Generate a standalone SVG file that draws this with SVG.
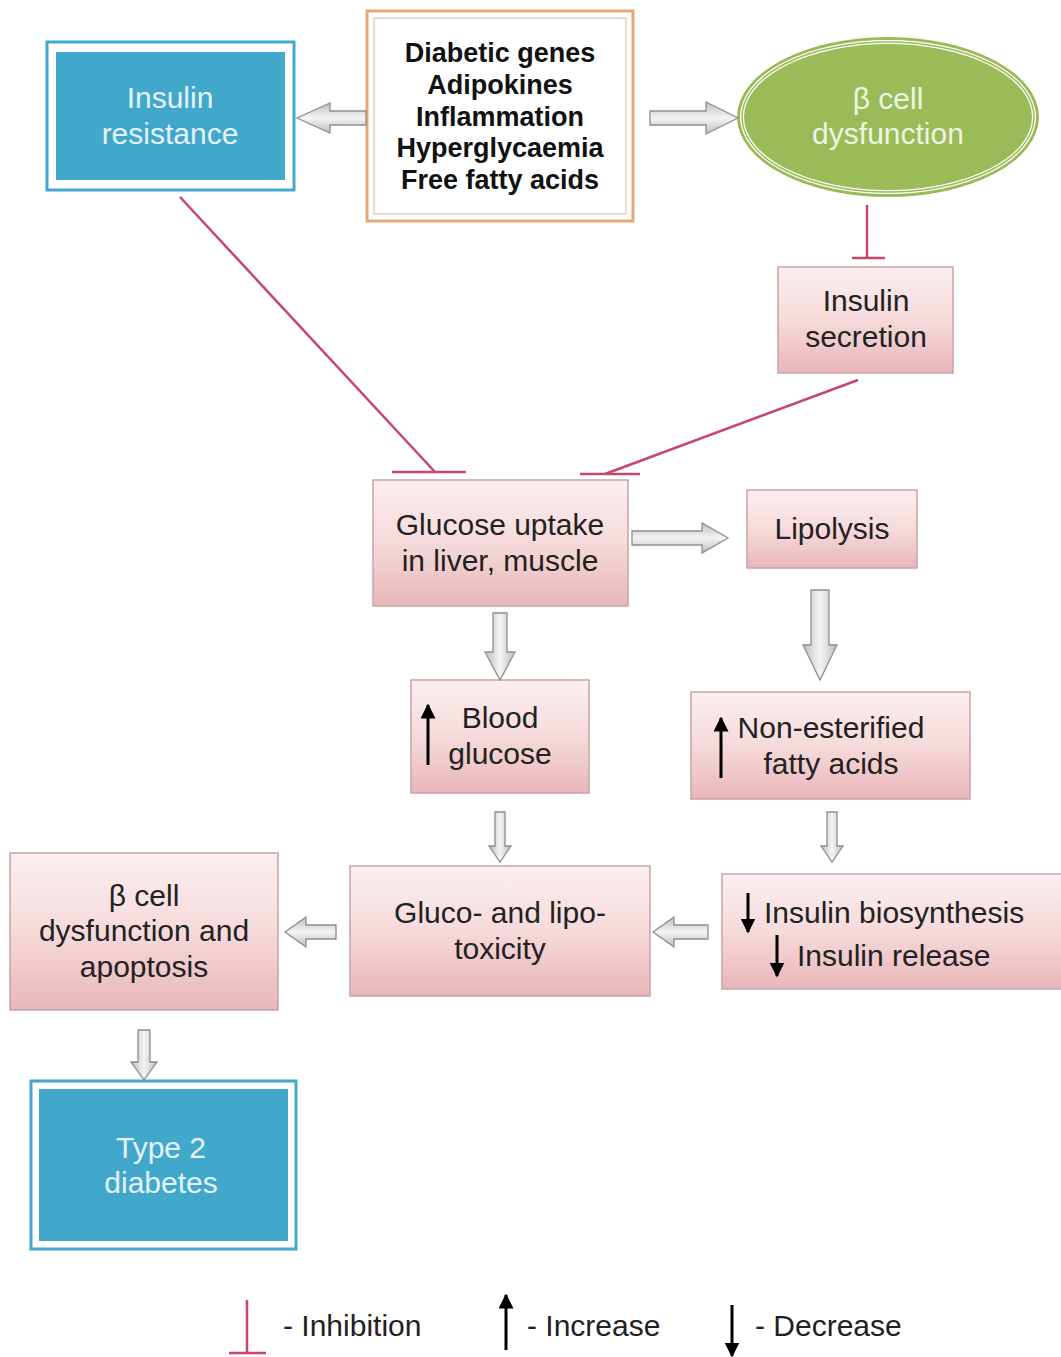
<svg xmlns="http://www.w3.org/2000/svg" width="1061" height="1357" viewBox="0 0 1061 1357">
<defs>
<linearGradient id="pink" x1="0" y1="0" x2="0" y2="1">
<stop offset="0" stop-color="#fcefef"/>
<stop offset="0.5" stop-color="#f6dadb"/>
<stop offset="1" stop-color="#e8b6ba"/>
</linearGradient>
<linearGradient id="grayV" x1="0" y1="0" x2="1" y2="0">
<stop offset="0" stop-color="#bdbdbd"/>
<stop offset="0.5" stop-color="#f4f4f4"/>
<stop offset="1" stop-color="#bdbdbd"/>
</linearGradient>
<linearGradient id="grayH" x1="0" y1="0" x2="0" y2="1">
<stop offset="0" stop-color="#bdbdbd"/>
<stop offset="0.5" stop-color="#f4f4f4"/>
<stop offset="1" stop-color="#bdbdbd"/>
</linearGradient>
<marker id="ah" viewBox="0 0 10 10" refX="9" refY="5" markerWidth="5" markerHeight="5" orient="auto">
<path d="M0,0 L10,5 L0,10 z" fill="#000"/>
</marker>
</defs>
<style>
.pbox{fill:url(#pink);stroke:#c9a3a6;stroke-width:1.5}
.t{font-family:"Liberation Sans",Arial,sans-serif;font-size:30px;fill:#222;text-anchor:middle}
.tw{font-family:"Liberation Sans",Arial,sans-serif;font-size:30px;fill:#e3f3f9;text-anchor:middle}
.tg{font-family:"Liberation Sans",Arial,sans-serif;font-size:30px;fill:#eef4e2;text-anchor:middle}
.tb{font-family:"Liberation Sans",Arial,sans-serif;font-size:27px;font-weight:bold;fill:#111;text-anchor:middle}
.ts{text-anchor:start}
.inh{stroke:#c8466a;stroke-width:2.5;fill:none}
.gv{fill:url(#grayV);stroke:#8f8f8f;stroke-width:1.3}
.gh{fill:url(#grayH);stroke:#8f8f8f;stroke-width:1.3}
.arr{stroke:#000;stroke-width:3;fill:none;marker-end:url(#ah)}
</style>
<rect width="1061" height="1357" fill="#fff"/>

<g id="insulin-resistance">
<rect x="47" y="42" width="247" height="148" fill="#fff" stroke="#41a8cc" stroke-width="3"/>
<rect x="56" y="52" width="229" height="128" fill="#41a8cc"/>
<text class="tw" x="170" y="108">Insulin</text>
<text class="tw" x="170" y="144">resistance</text>
</g>

<g id="causes">
<rect x="367" y="11" width="266" height="210" fill="#fff" stroke="#e3a878" stroke-width="3"/>
<rect x="374" y="18" width="252" height="196" fill="none" stroke="#d9c2b4" stroke-width="1.2"/>
<text class="tb" x="500" y="62">Diabetic genes</text>
<text class="tb" x="500" y="94">Adipokines</text>
<text class="tb" x="500" y="126">Inflammation</text>
<text class="tb" x="500" y="157">Hyperglycaemia</text>
<text class="tb" x="500" y="189">Free fatty acids</text>
</g>

<g id="beta-cell-dysfunction">
<ellipse cx="888" cy="117" rx="151" ry="80" fill="#9bbb59"/>
<ellipse cx="888" cy="117" rx="146" ry="75" fill="none" stroke="#fff" stroke-width="4"/>
<ellipse cx="888" cy="117" rx="146" ry="75" fill="none" stroke="#9bbb59" stroke-width="1.5"/>
<text class="tg" x="888" y="109">β cell</text>
<text class="tg" x="888" y="144">dysfunction</text>
</g>

<g id="insulin-secretion">
<rect class="pbox" x="778" y="267" width="175" height="106"/>
<text class="t" x="866" y="311">Insulin</text>
<text class="t" x="866" y="347">secretion</text>
</g>

<g id="glucose-uptake">
<rect class="pbox" x="373" y="480" width="255" height="126"/>
<text class="t" x="500" y="535">Glucose uptake</text>
<text class="t" x="500" y="571">in liver, muscle</text>
</g>

<g id="lipolysis">
<rect class="pbox" x="747" y="490" width="170" height="78"/>
<text class="t" x="832" y="539">Lipolysis</text>
</g>

<g id="blood-glucose">
<rect class="pbox" x="411" y="680" width="178" height="113"/>
<line class="arr" x1="428" y1="765" x2="428" y2="705"/>
<text class="t" x="500" y="728">Blood</text>
<text class="t" x="500" y="764">glucose</text>
</g>

<g id="nefa">
<rect class="pbox" x="691" y="692" width="279" height="107"/>
<line class="arr" x1="721" y1="778" x2="721" y2="718"/>
<text class="t" x="831" y="738">Non-esterified</text>
<text class="t" x="831" y="774">fatty acids</text>
</g>

<g id="glucolipotoxicity">
<rect class="pbox" x="350" y="866" width="300" height="130"/>
<text class="t" x="500" y="923">Gluco- and lipo-</text>
<text class="t" x="500" y="959">toxicity</text>
</g>

<g id="insulin-biosynthesis">
<rect class="pbox" x="722" y="874" width="345" height="115"/>
<line class="arr" x1="748" y1="893" x2="748" y2="932"/>
<text class="t ts" x="764" y="923">Insulin biosynthesis</text>
<line class="arr" x1="777" y1="935" x2="777" y2="976"/>
<text class="t ts" x="797" y="966">Insulin release</text>
</g>

<g id="beta-apoptosis">
<rect class="pbox" x="10" y="853" width="268" height="157"/>
<text class="t" x="144" y="906">β cell</text>
<text class="t" x="144" y="941">dysfunction and</text>
<text class="t" x="144" y="977">apoptosis</text>
</g>

<g id="type2-diabetes">
<rect x="31" y="1081" width="265" height="168" fill="#fff" stroke="#41a8cc" stroke-width="3"/>
<rect x="39" y="1089" width="249" height="152" fill="#41a8cc"/>
<text class="tw" x="161" y="1158">Type 2</text>
<text class="tw" x="161" y="1193">diabetes</text>
</g>

<g id="connectors">
<path class="gh" d="M366,111 L330,111 L330,103 L297,118 L330,133 L330,125 L366,125 Z"/>
<path class="gh" d="M650,111 L706,111 L706,102 L738,118 L706,134 L706,125 L650,125 Z"/>
<path class="gh" d="M632,531 L702,531 L702,523 L728,538 L702,553 L702,545 L632,545 Z"/>
<path class="gv" d="M493,613 L493,652 L485,652 L500,680 L515,652 L507,652 L507,613 Z"/>
<path class="gv" d="M811,590 L811,645 L803,645 L820,680 L837,645 L829,645 L829,590 Z"/>
<path class="gv" d="M495,812 L495,846 L489,846 L500,862 L511,846 L505,846 L505,812 Z"/>
<path class="gv" d="M827,812 L827,846 L821,846 L832,862 L843,846 L837,846 L837,812 Z"/>
<path class="gh" d="M708,925 L674,925 L674,917 L653,932 L674,947 L674,939 L708,939 Z"/>
<path class="gh" d="M336,925 L306,925 L306,917 L285,932 L306,947 L306,939 L336,939 Z"/>
<path class="gv" d="M138,1030 L138,1062 L131,1062 L144,1080 L157,1062 L150,1062 L150,1030 Z"/>
<polyline class="inh" points="180,197 435,472"/>
<line class="inh" x1="392" y1="472" x2="466" y2="472"/>
<polyline class="inh" points="858,380 605,474"/>
<line class="inh" x1="580" y1="474" x2="640" y2="474"/>
<line class="inh" x1="867" y1="205" x2="867" y2="258"/>
<line class="inh" x1="852" y1="258" x2="885" y2="258"/>
</g>

<g id="legend">
<line class="inh" x1="247" y1="1300" x2="247" y2="1353"/>
<line class="inh" x1="229" y1="1353" x2="266" y2="1353"/>
<text class="t ts" x="283" y="1336">- Inhibition</text>
<line class="arr" x1="506" y1="1350" x2="506" y2="1295"/>
<text class="t ts" x="527" y="1336">- Increase</text>
<line class="arr" x1="732" y1="1305" x2="732" y2="1356"/>
<text class="t ts" x="755" y="1336">- Decrease</text>
</g>
</svg>
